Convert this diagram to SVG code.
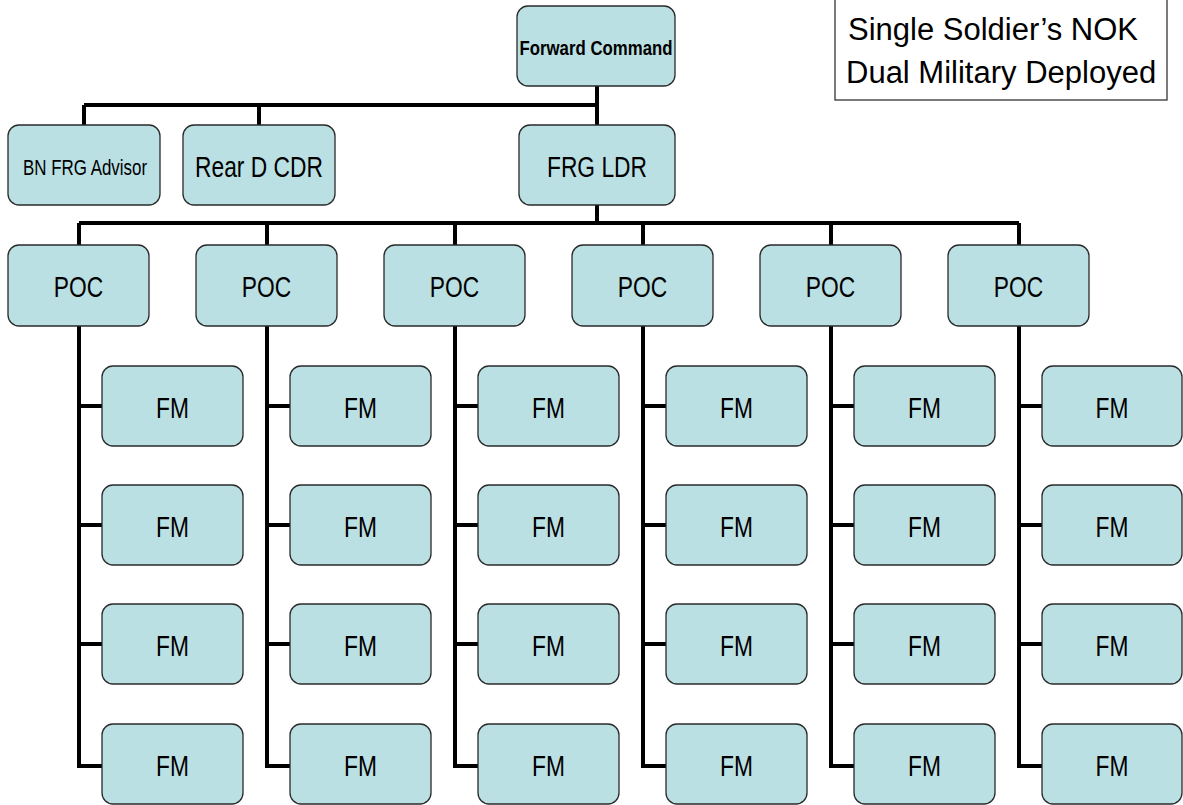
<svg xmlns="http://www.w3.org/2000/svg" width="1183" height="805" viewBox="0 0 1183 805">
<style>
.box{fill:#bbe0e3;stroke:#2a2a2a;stroke-width:1.3}
.t{font-family:"Liberation Sans",Arial,sans-serif;font-size:30px;text-anchor:middle;fill:#000}
.tb{font-family:"Liberation Sans",Arial,sans-serif;font-size:21px;font-weight:bold;text-anchor:middle;fill:#000}
.ts{font-family:"Liberation Sans",Arial,sans-serif;font-size:22px;text-anchor:middle;fill:#000}
.leg{font-family:"Liberation Sans",Arial,sans-serif;font-size:31px;fill:#000}
.c{fill:none;stroke:#000;stroke-width:4}
</style>
<rect width="1183" height="805" fill="#fff"/>
<g id="connectors">
<path class="c" d="M597 86V105M84 105H597M84 105V125M259 105V125M597 105V125"/>
<path class="c" d="M597 205V223M79 223H1019M79 223V245M267 223V245M455 223V245M643 223V245M831 223V245M1019 223V245"/>
<path class="c" d="M79 326V766H102M79 406H102M79 525H102M79 644H102"/>
<path class="c" d="M267 326V766H290M267 406H290M267 525H290M267 644H290"/>
<path class="c" d="M455 326V766H478M455 406H478M455 525H478M455 644H478"/>
<path class="c" d="M643 326V766H666M643 406H666M643 525H666M643 644H666"/>
<path class="c" d="M831 326V766H854M831 406H854M831 525H854M831 644H854"/>
<path class="c" d="M1019 326V766H1042M1019 406H1042M1019 525H1042M1019 644H1042"/>
</g>
<g id="legend">
<rect x="835" y="-2" width="332" height="102" fill="#fff" stroke="#333" stroke-width="1.3"/>
<text class="leg" x="848" y="40">Single Soldier’s NOK</text>
<text class="leg" x="846" y="83">Dual Military Deployed</text>
</g>
<g id="forward-command"><rect class="box" x="517" y="6" width="158" height="80" rx="11"/><text class="tb" transform="translate(596,55) scale(0.8,1)">Forward Command</text></g>
<g id="bn-frg-advisor"><rect class="box" x="8" y="125" width="152" height="80" rx="11"/><text class="ts" transform="translate(85,175) scale(0.77,1)">BN FRG Advisor</text></g>
<g id="rear-d-cdr"><rect class="box" x="183" y="125" width="152" height="80" rx="11"/><text class="t" transform="translate(259,177) scale(0.76,1)">Rear D CDR</text></g>
<g id="frg-ldr"><rect class="box" x="519" y="125" width="156" height="80" rx="11"/><text class="t" transform="translate(597,177) scale(0.76,1)">FRG LDR</text></g>
<g id="poc1"><rect class="box" x="8" y="245" width="141" height="81" rx="11"/><text class="t" transform="translate(78.5,297) scale(0.76,1)">POC</text></g>
<g id="poc2"><rect class="box" x="196" y="245" width="141" height="81" rx="11"/><text class="t" transform="translate(266.5,297) scale(0.76,1)">POC</text></g>
<g id="poc3"><rect class="box" x="384" y="245" width="141" height="81" rx="11"/><text class="t" transform="translate(454.5,297) scale(0.76,1)">POC</text></g>
<g id="poc4"><rect class="box" x="572" y="245" width="141" height="81" rx="11"/><text class="t" transform="translate(642.5,297) scale(0.76,1)">POC</text></g>
<g id="poc5"><rect class="box" x="760" y="245" width="141" height="81" rx="11"/><text class="t" transform="translate(830.5,297) scale(0.76,1)">POC</text></g>
<g id="poc6"><rect class="box" x="948" y="245" width="141" height="81" rx="11"/><text class="t" transform="translate(1018.5,297) scale(0.76,1)">POC</text></g>
<g id="fm1-1"><rect class="box" x="102" y="366" width="141" height="80" rx="11"/><text class="t" transform="translate(172.5,418) scale(0.76,1)">FM</text></g>
<g id="fm1-2"><rect class="box" x="102" y="485" width="141" height="80" rx="11"/><text class="t" transform="translate(172.5,537) scale(0.76,1)">FM</text></g>
<g id="fm1-3"><rect class="box" x="102" y="604" width="141" height="80" rx="11"/><text class="t" transform="translate(172.5,656) scale(0.76,1)">FM</text></g>
<g id="fm1-4"><rect class="box" x="102" y="724" width="141" height="80" rx="11"/><text class="t" transform="translate(172.5,776) scale(0.76,1)">FM</text></g>
<g id="fm2-1"><rect class="box" x="290" y="366" width="141" height="80" rx="11"/><text class="t" transform="translate(360.5,418) scale(0.76,1)">FM</text></g>
<g id="fm2-2"><rect class="box" x="290" y="485" width="141" height="80" rx="11"/><text class="t" transform="translate(360.5,537) scale(0.76,1)">FM</text></g>
<g id="fm2-3"><rect class="box" x="290" y="604" width="141" height="80" rx="11"/><text class="t" transform="translate(360.5,656) scale(0.76,1)">FM</text></g>
<g id="fm2-4"><rect class="box" x="290" y="724" width="141" height="80" rx="11"/><text class="t" transform="translate(360.5,776) scale(0.76,1)">FM</text></g>
<g id="fm3-1"><rect class="box" x="478" y="366" width="141" height="80" rx="11"/><text class="t" transform="translate(548.5,418) scale(0.76,1)">FM</text></g>
<g id="fm3-2"><rect class="box" x="478" y="485" width="141" height="80" rx="11"/><text class="t" transform="translate(548.5,537) scale(0.76,1)">FM</text></g>
<g id="fm3-3"><rect class="box" x="478" y="604" width="141" height="80" rx="11"/><text class="t" transform="translate(548.5,656) scale(0.76,1)">FM</text></g>
<g id="fm3-4"><rect class="box" x="478" y="724" width="141" height="80" rx="11"/><text class="t" transform="translate(548.5,776) scale(0.76,1)">FM</text></g>
<g id="fm4-1"><rect class="box" x="666" y="366" width="141" height="80" rx="11"/><text class="t" transform="translate(736.5,418) scale(0.76,1)">FM</text></g>
<g id="fm4-2"><rect class="box" x="666" y="485" width="141" height="80" rx="11"/><text class="t" transform="translate(736.5,537) scale(0.76,1)">FM</text></g>
<g id="fm4-3"><rect class="box" x="666" y="604" width="141" height="80" rx="11"/><text class="t" transform="translate(736.5,656) scale(0.76,1)">FM</text></g>
<g id="fm4-4"><rect class="box" x="666" y="724" width="141" height="80" rx="11"/><text class="t" transform="translate(736.5,776) scale(0.76,1)">FM</text></g>
<g id="fm5-1"><rect class="box" x="854" y="366" width="141" height="80" rx="11"/><text class="t" transform="translate(924.5,418) scale(0.76,1)">FM</text></g>
<g id="fm5-2"><rect class="box" x="854" y="485" width="141" height="80" rx="11"/><text class="t" transform="translate(924.5,537) scale(0.76,1)">FM</text></g>
<g id="fm5-3"><rect class="box" x="854" y="604" width="141" height="80" rx="11"/><text class="t" transform="translate(924.5,656) scale(0.76,1)">FM</text></g>
<g id="fm5-4"><rect class="box" x="854" y="724" width="141" height="80" rx="11"/><text class="t" transform="translate(924.5,776) scale(0.76,1)">FM</text></g>
<g id="fm6-1"><rect class="box" x="1042" y="366" width="140" height="80" rx="11"/><text class="t" transform="translate(1112,418) scale(0.76,1)">FM</text></g>
<g id="fm6-2"><rect class="box" x="1042" y="485" width="140" height="80" rx="11"/><text class="t" transform="translate(1112,537) scale(0.76,1)">FM</text></g>
<g id="fm6-3"><rect class="box" x="1042" y="604" width="140" height="80" rx="11"/><text class="t" transform="translate(1112,656) scale(0.76,1)">FM</text></g>
<g id="fm6-4"><rect class="box" x="1042" y="724" width="140" height="80" rx="11"/><text class="t" transform="translate(1112,776) scale(0.76,1)">FM</text></g>
</svg>
